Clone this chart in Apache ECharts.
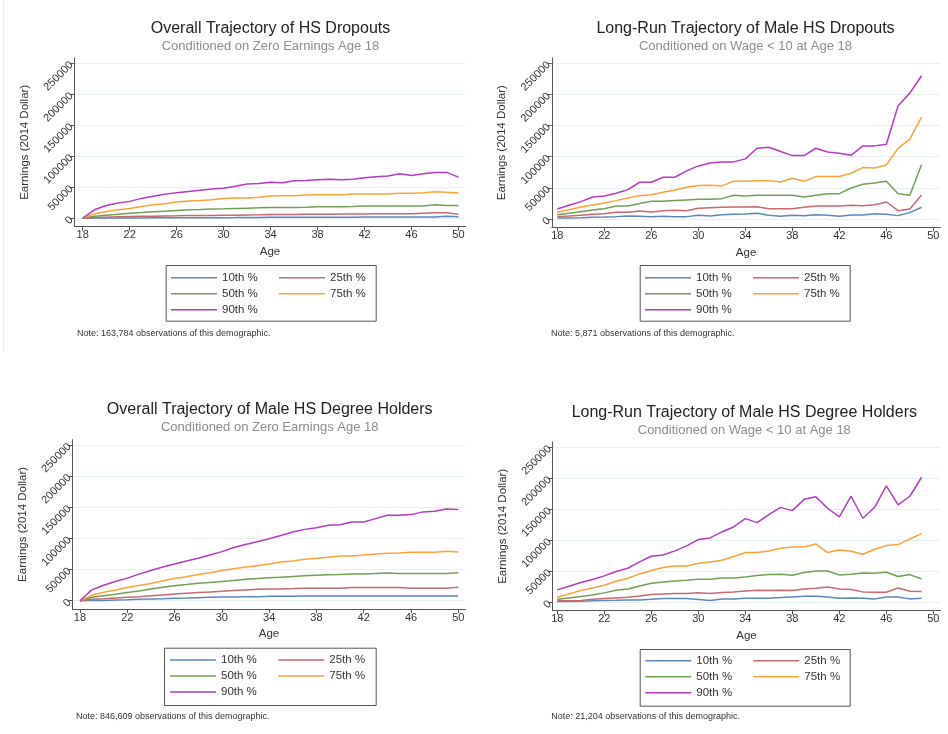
<!DOCTYPE html>
<html>
<head>
<meta charset="utf-8">
<script src="https://cdn.jsdelivr.net/npm/echarts@6/dist/echarts.min.js"></script>
<style>
  html, body { margin: 0; padding: 0; background: #ffffff; }
  #chart { width: 948px; height: 734px; }
</style>
</head>
<body>
<div id="chart"></div>
<script>
// Age axes
const agesTo50 = [18,19,20,21,22,23,24,25,26,27,28,29,30,31,32,33,34,35,36,37,38,39,40,41,42,43,44,45,46,47,48,49,50];
const agesTo49 = [18,19,20,21,22,23,24,25,26,27,28,29,30,31,32,33,34,35,36,37,38,39,40,41,42,43,44,45,46,47,48,49];
const xTickLabels = [18,22,26,30,34,38,42,46,50];
const yTickLabels = [0,50000,100000,150000,200000,250000];
const percentileNames = ['10th %','25th %','50th %','75th %','90th %'];

// Overall trajectory of HS dropouts (zero earnings at 18), ages 18-50
const dropAll10 = [0,200,300,400,500,500,600,700,700,800,800,900,900,1000,1300,1100,1500,1500,1500,1600,1600,1700,1700,1700,1800,1800,1800,1800,1900,1900,1900,3300,2400];
const dropAll25 = [0,1000,1600,2200,2700,3000,3300,3800,3900,4300,4400,4500,4900,5000,5400,5500,6000,6000,6100,6500,6500,6600,7000,7000,7000,7100,7100,7100,7200,8200,8700,8700,6500];
const dropAll50 = [0,3300,4900,6500,8200,9200,10300,11400,12500,13600,14100,14700,15200,15800,16300,16800,17400,17400,17400,17900,18500,18500,18500,19000,19600,19600,19600,19600,19600,19600,21700,20600,20600];
const dropAll75 = [0,7000,10900,13600,15800,19000,21700,23400,26100,27700,28800,29900,32000,32600,32600,33700,35900,36400,36400,37500,38000,38000,38000,39100,39100,39100,39100,40200,40200,41300,42900,41800,40800];
const dropAll90 = [0,13600,20600,24500,27200,32000,35300,38600,41300,43000,45100,47300,48400,51600,55400,56000,58200,57100,60300,60900,62000,63000,62000,63000,65200,66900,68000,71700,69000,71700,73900,73900,66300];

// Long-run trajectory of male HS dropouts (wage < 10 at 18), ages 18-49
const dropLow10 = [1600,1600,2100,2700,3200,3800,4800,4300,3800,4300,3800,3800,5900,4800,7000,7500,8000,9100,5900,4300,5900,5400,7000,5900,4300,6400,6400,8600,7500,5400,10200,18800];
const dropLow25 = [3800,4800,5900,7500,8600,10700,10700,12900,11300,13400,13900,13400,17200,18200,18800,19300,19300,19800,16600,16600,16600,18800,20900,20900,20900,22000,21400,23000,27300,13400,16100,38600];
const dropLow50 = [7000,9100,11800,14500,16600,20900,20900,24700,28400,28400,29500,30600,31600,31600,32700,38100,37000,38100,38100,38100,38100,35400,38100,40700,40700,49800,55700,57900,60600,40700,38100,87400];
const dropLow75 = [10700,15000,19300,22500,25700,29500,33800,37500,39100,42900,46600,50900,53600,54100,53100,60600,60600,61600,61600,59500,65400,60600,68100,68100,68100,73400,82500,82000,86800,113600,128100,163500];
const dropLow90 = [16100,22000,27900,35400,37000,41300,47200,59000,59000,67000,67000,77200,85200,90000,91700,91700,96500,113600,115200,108300,101800,101800,113600,107700,105600,102400,117400,117400,120100,181700,202100,230000];

// Overall trajectory of male HS degree holders (zero earnings at 18), ages 18-50
const gradAll10 = [0,500,500,1100,1600,2200,2700,3200,3800,4300,4900,5400,5900,5900,6500,6500,7000,7000,7000,7600,7600,7600,7600,7600,7600,7600,7600,7600,7600,7600,7600,7600,7600];
const gradAll25 = [0,2200,3200,4300,5400,6500,8100,9200,10800,11900,13000,14000,15100,16200,17300,18400,18900,18900,19400,20000,20000,20000,20000,21100,21100,21100,21100,21100,20000,20000,20000,20000,21600];
const gradAll50 = [0,5400,8100,10300,13000,15700,18900,21600,23800,25900,28100,29200,30800,32400,34600,35600,36700,37800,38900,40000,41000,41600,42100,42700,42700,43700,44300,43700,43700,43700,43700,43700,44800];
const gradAll75 = [0,8600,13500,17300,21100,24300,27500,31900,35600,38300,42100,44800,48600,51300,54000,56200,58900,62100,63700,66400,68000,69700,71800,71800,73400,75100,76100,76700,77800,77800,77800,79400,78300];
const gradAll90 = [0,17300,24800,30800,36200,42700,48600,54000,58900,63700,68000,73400,78800,85300,90200,94500,99400,104800,110200,114500,117200,121000,122000,126400,126400,131800,137200,137200,138200,142600,143600,147400,146300];

// Long-run trajectory of male HS degree holders (wage < 10 at 18), ages 18-49
const gradLow10 = [1100,1100,1600,2200,2700,3200,3800,3800,4800,5900,5900,5900,4300,2700,5400,5400,6400,6400,6400,7500,8600,9700,9700,8600,6400,7000,6400,5400,8600,8600,5400,6400];
const gradLow25 = [2200,2200,2700,4800,5900,7000,8100,10200,12400,13400,14000,14000,15100,14000,15600,16700,18300,19400,18800,19400,18800,21500,22600,24700,21500,20400,16700,16100,16100,23100,17700,17200];
const gradLow50 = [4800,7000,9100,11800,15100,19400,21500,26300,30600,32800,34400,35500,37100,37100,39200,39200,40900,43000,44600,45200,43500,47800,50500,50500,44100,45200,47300,46800,48400,41400,44600,37600];
const gradLow75 = [8100,13400,18800,23100,27400,33900,38700,45700,51100,55900,58600,58600,62900,65000,67700,73700,80100,80100,82800,87100,89200,89200,94100,80100,84400,82300,77400,85500,91400,93000,102100,110700];
const gradLow90 = [19900,25800,31700,36600,42500,49500,54800,65100,74200,76300,82800,90900,101100,103800,113400,121400,134900,128400,141400,153000,147800,166000,170000,151600,137700,171000,135500,153200,187600,157000,171000,201600];

const titles = [
  'Overall Trajectory of HS Dropouts',
  'Long-Run Trajectory of Male HS Dropouts',
  'Overall Trajectory of Male HS Degree Holders',
  'Long-Run Trajectory of Male HS Degree Holders'
];
const subtitles = [
  'Conditioned on Zero Earnings Age 18',
  'Conditioned on Wage < 10 at Age 18',
  'Conditioned on Zero Earnings Age 18',
  'Conditioned on Wage < 10 at Age 18'
];
const notes = [
  'Note: 163,784 observations of this demographic.',
  'Note: 5,871 observations of this demographic.',
  'Note: 846,609 observations of this demographic.',
  'Note: 21,204 observations of this demographic.'
];

const panelData = [
  { ages: agesTo50, series: [dropAll10, dropAll25, dropAll50, dropAll75, dropAll90] },
  { ages: agesTo49, series: [dropLow10, dropLow25, dropLow50, dropLow75, dropLow90] },
  { ages: agesTo50, series: [gradAll10, gradAll25, gradAll50, gradAll75, gradAll90] },
  { ages: agesTo49, series: [gradLow10, gradLow25, gradLow50, gradLow75, gradLow90] }
];

// Page layout for each of the four panels (pixels, plus the padded age range of each plot)
const layout = [
  { grid: { left: 74.5, top: 58, width: 391, height: 168.6 }, ageMin: 17.3, ageMax: 50.6, titleX: 270.5, titleTop: 19,
    legendCols: [171, 279], legendTop: 270.7, box: [165.7, 265, 210, 55.7], note: [77, 334] },
  { grid: { left: 551.8, top: 58, width: 388.6, height: 169.4 }, ageMin: 17.53, ageMax: 50.6, titleX: 745.5, titleTop: 19,
    legendCols: [645, 753], legendTop: 270.7, box: [639.7, 265, 210, 55.7], note: [551, 334] },
  { grid: { left: 72.5, top: 439.7, width: 392.9, height: 169.4 }, ageMin: 17.37, ageMax: 50.6, titleX: 269.7, titleTop: 400,
    legendCols: [170, 278.3], legendTop: 653, box: [164, 647.7, 211.7, 57.3], note: [76, 716.3] },
  { grid: { left: 552.6, top: 442, width: 387.8, height: 168.6 }, ageMin: 17.6, ageMax: 50.6, titleX: 744.3, titleTop: 402.7,
    legendCols: [645.3, 753.3], legendTop: 653.7, box: [639.7, 649, 210, 56.7], note: [551.3, 716.7] }
];

const FONT = '"Liberation Sans", Arial, Helvetica, sans-serif';
const lineColors = ['#5d87b8', '#c46a70', '#70a055', '#f6a33a', '#b03cc0'];
const axisColor = '#555555';
const textColor = '#333333';

const option = {
  backgroundColor: '#ffffff',
  animation: false,
  color: lineColors,
  title: [],
  legend: [],
  grid: [],
  xAxis: [],
  yAxis: [],
  series: [],
  graphic: []
};

// faint frame line along the left edge of the top-left panel
option.graphic.push({
  type: 'line', silent: true,
  shape: { x1: 3.5, y1: 0, x2: 3.5, y2: 350 },
  style: { stroke: '#e6eded', lineWidth: 1 }
});

layout.forEach((L, i) => {
  option.grid.push(Object.assign({ containLabel: false }, L.grid));

  option.title.push({
    text: titles[i],
    subtext: subtitles[i],
    left: L.titleX,
    top: L.titleTop,
    textAlign: 'center',
    padding: 0,
    itemGap: 0,
    textStyle: { fontFamily: FONT, fontSize: 16, fontWeight: 'normal', color: '#222222', lineHeight: 20 },
    subtextStyle: { fontFamily: FONT, fontSize: 13, color: '#8c8c8c', lineHeight: 15 }
  });

  option.xAxis.push({
    type: 'value',
    gridIndex: i,
    min: L.ageMin,
    max: L.ageMax,
    name: 'Age',
    nameLocation: 'middle',
    nameGap: 19,
    nameTextStyle: { fontFamily: FONT, fontSize: 11.5, color: textColor },
    axisLine: { show: true, onZero: false, lineStyle: { color: axisColor, width: 1 } },
    axisTick: { show: true, length: 4, customValues: xTickLabels, lineStyle: { color: axisColor } },
    axisLabel: { customValues: xTickLabels, fontFamily: FONT, fontSize: 11, color: textColor, margin: 3,
      formatter: v => String(v) },
    splitLine: { show: false }
  });

  option.yAxis.push({
    type: 'value',
    gridIndex: i,
    min: -13500,
    max: 258500,
    name: 'Earnings (2014 Dollar)',
    nameLocation: 'middle',
    nameGap: 44,
    nameRotate: 90,
    nameTextStyle: { fontFamily: FONT, fontSize: 11.5, color: textColor },
    axisLine: { show: true, onZero: false, lineStyle: { color: axisColor, width: 1 } },
    axisTick: { show: true, length: 4, customValues: yTickLabels, lineStyle: { color: axisColor } },
    axisLabel: { customValues: yTickLabels, rotate: 45, fontFamily: FONT, fontSize: 11, color: textColor, margin: 3,
      formatter: v => String(v) },
    splitLine: { show: true, lineStyle: { color: '#e7efef', width: 1 } }
  });

  const P = panelData[i];
  percentileNames.forEach((name, k) => {
    option.series.push({
      type: 'line',
      name: name,
      xAxisIndex: i,
      yAxisIndex: i,
      data: P.ages.map((a, j) => [a, P.series[k][j]]),
      symbol: 'none',
      showSymbol: false,
      silent: true,
      lineStyle: { width: 1.5, color: lineColors[k] },
      itemStyle: { color: lineColors[k] },
      z: 2 + k
    });
  });

  const legendBase = {
    orient: 'vertical',
    top: L.legendTop,
    padding: 0,
    itemGap: 2,
    itemWidth: 46,
    itemHeight: 1.5,
    icon: 'rect',
    selectedMode: false,
    textStyle: { fontFamily: FONT, fontSize: 11.5, color: textColor, lineHeight: 14 }
  };
  option.legend.push(Object.assign({}, legendBase, { left: L.legendCols[0], data: [percentileNames[0], percentileNames[2], percentileNames[4]] }));
  option.legend.push(Object.assign({}, legendBase, { left: L.legendCols[1], data: [percentileNames[1], percentileNames[3]] }));

  option.graphic.push({
    type: 'rect', silent: true,
    shape: { x: L.box[0] + 0.5, y: L.box[1] + 0.5, width: L.box[2], height: L.box[3] },
    style: { fill: 'none', stroke: '#555555', lineWidth: 1 }
  });
  option.graphic.push({
    type: 'text', silent: true,
    x: L.note[0], y: L.note[1],
    style: { text: notes[i], font: '9px ' + FONT, fill: textColor, verticalAlign: 'middle', align: 'left' }
  });
});

const chart = echarts.init(document.getElementById('chart'), null, { renderer: 'canvas' });
chart.setOption(option);
</script>
</body>
</html>
